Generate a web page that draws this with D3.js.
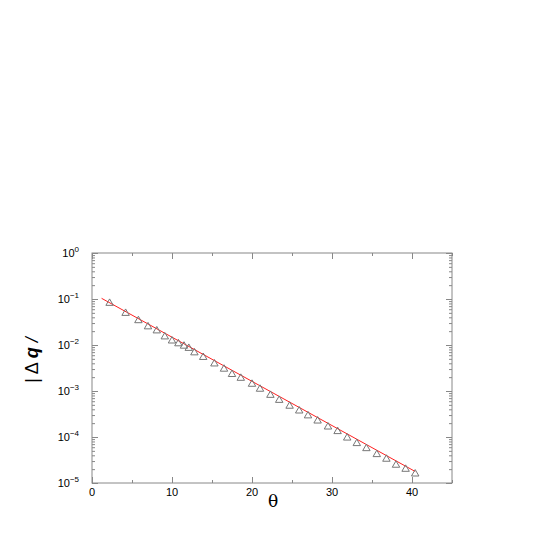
<!DOCTYPE html>
<html><head><meta charset="utf-8">
<script src="https://cdn.jsdelivr.net/npm/d3@7"></script>
<style>body{margin:0;background:#fff}svg{display:block}</style>
</head><body>
<script>
const thetaValues = [2.2, 4.2, 5.8, 7.0, 8.1, 9.1, 10.0, 10.8, 11.5, 12.1, 12.8, 13.9, 15.3, 16.5, 17.5, 18.6, 20.0, 21.0, 22.3, 23.4, 24.7, 25.9, 27.0, 28.2, 29.5, 30.7, 31.9, 33.1, 34.3, 35.6, 36.8, 38.0, 39.2, 40.4];
const dqValues = [0.081, 0.049, 0.034, 0.025, 0.0204, 0.0151, 0.0123, 0.0107, 0.0095, 0.0085, 0.0068, 0.0054, 0.0039, 0.0030, 0.0023, 0.0019, 0.00141, 0.00110, 0.00081, 0.00063, 0.00047, 0.00037, 0.00029, 0.000224, 0.000166, 0.000132, 0.0000955, 0.0000724, 0.0000562, 0.0000417, 0.0000331, 0.0000245, 0.0000200, 0.0000158];
const fitTheta = [1.2, 40.4];
const fitDq = [0.1035, 0.0000178];
const xTicks = [0, 10, 20, 30, 40];
const yExponents = [0, -1, -2, -3, -4, -5];

const W = 545, H = 545;
const m = {left: 92, right: 545 - 452, top: 253, bottom: 545 - 483};
const svg = d3.select("body").append("svg").attr("width", W).attr("height", H);
const x = d3.scaleLinear().domain([0, 45]).range([m.left, W - m.right]);
const y = d3.scaleLog().domain([1e-5, 1]).range([H - m.bottom, m.top]);
const axisColor = "#888";
const font = "'Liberation Sans', Arial, sans-serif";

// frame
svg.append("rect").attr("x", m.left).attr("y", m.top)
  .attr("width", x(45) - x(0)).attr("height", y(1e-5) - y(1))
  .attr("fill", "none").attr("stroke", axisColor).attr("stroke-width", 1);

const xMajor = d3.range(0, 46, 10), xMinor = d3.range(5, 46, 10);
const yMajor = yExponents.map(e => Math.pow(10, e));
const yMinor = [];
for (let e = -5; e < 0; e++) for (let k = 2; k <= 9; k++) yMinor.push(k * Math.pow(10, e));

function ticksX(vals, len) {
  const bottom = d3.axisBottom(x).tickValues(vals).tickSize(-len).tickFormat("");
  const top = d3.axisTop(x).tickValues(vals).tickSize(-len).tickFormat("");
  [[bottom, H - m.bottom], [top, m.top]].forEach(([ax, ty]) => {
    const g = svg.append("g").attr("transform", `translate(0,${ty})`).call(ax);
    g.select(".domain").remove();
    g.selectAll("line").attr("stroke", axisColor);
  });
}
function ticksY(vals, len) {
  const left = d3.axisLeft(y).tickValues(vals).tickSize(-len).tickFormat("");
  const right = d3.axisRight(y).tickValues(vals).tickSize(-len).tickFormat("");
  [[left, m.left], [right, W - m.right]].forEach(([ax, tx]) => {
    const g = svg.append("g").attr("transform", `translate(${tx},0)`).call(ax);
    g.select(".domain").remove();
    g.selectAll("line").attr("stroke", axisColor);
  });
}
ticksX(xMajor, 6); ticksX(xMinor, 3);
ticksY(yMajor, 6); ticksY(yMinor, 3);

// x tick labels
svg.append("g").selectAll("text").data(xTicks).join("text")
  .attr("x", d => x(d)).attr("y", H - m.bottom + 13)
  .attr("text-anchor", "middle").attr("font-family", font).attr("font-size", 11)
  .text(d => d);

// y tick labels
const yl = svg.append("g").selectAll("text").data(yExponents).join("text")
  .attr("x", m.left - 13).attr("y", d => y(Math.pow(10, d)) + 4)
  .attr("text-anchor", "end").attr("font-family", font).attr("font-size", 11);
yl.append("tspan").text("10");
yl.append("tspan").attr("dy", -5).attr("font-size", 8).text(d => d === 0 ? "0" : "\u2212" + (-d));

// fit line
svg.append("path").datum(fitTheta.map((t, i) => [t, fitDq[i]]))
  .attr("d", d3.line().x(d => x(d[0])).y(d => y(d[1])))
  .attr("stroke", "#ff2020").attr("stroke-width", 1).attr("fill", "none");

// triangles
const tri = d3.symbol().type(d3.symbolTriangle).size(24);
svg.append("g").selectAll("path").data(thetaValues.map((t, i) => [t, dqValues[i]])).join("path")
  .attr("d", tri).attr("transform", d => `translate(${x(d[0])},${y(d[1])})`)
  .attr("fill", "none").attr("stroke", "#777").attr("stroke-width", 1);

// axis titles
svg.append("text").attr("x", 273).attr("y", 507).attr("text-anchor", "middle")
  .attr("font-family", "'DejaVu Serif', serif").attr("font-size", 17).text("\u03b8");

const yt = svg.append("text").attr("transform", "translate(38,360) rotate(-90)")
  .attr("text-anchor", "middle").attr("font-family", font).attr("font-size", 18)
  .attr("xml:space", "preserve");
yt.append("tspan").text("| \u0394 ");
yt.append("tspan").attr("font-weight", "bold").attr("font-style", "italic").text("q");
yt.append("tspan").attr("font-style", "italic").text(" /");
</script>
</body></html>
